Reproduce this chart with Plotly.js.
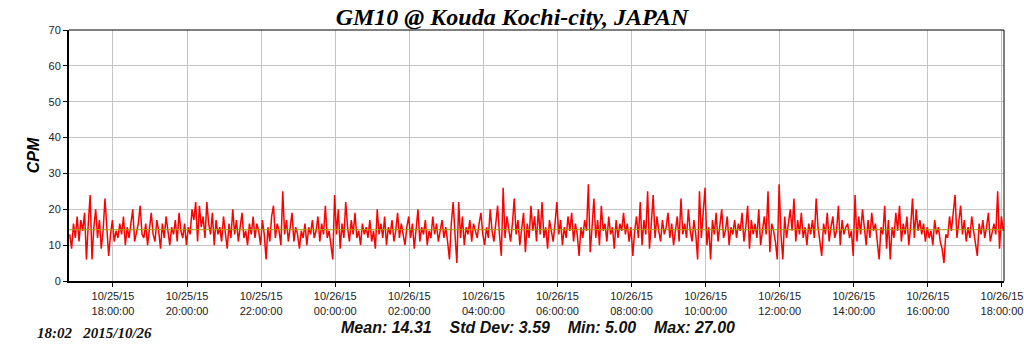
<!DOCTYPE html>
<html>
<head>
<meta charset="utf-8">
<script src="https://cdn.plot.ly/plotly-3.0.1.min.js"></script>
<style>html,body{margin:0;padding:0;background:#fff;}#chart{width:1024px;height:351px;}</style>
</head>
<body>
<div id="chart"></div>
<script>
// CPM readings, one every 3 minutes from 2015-10-25 16:50 to 2015-10-26 18:02
const startTime = '2015-10-25 16:50:00';
const stepMs = 180000;
const cpm = [
13,9,16,12,18,11,17,14,19,6,16,24,6,15,20,12,17,9,14,23,
15,7,13,17,11,14,12,16,13,18,10,15,12,17,20,11,14,16,21,13,
12,16,10,15,19,13,11,17,14,9,16,12,18,14,10,15,13,17,11,19,
14,12,16,10,15,13,20,17,22,11,21,15,18,12,22,16,13,19,10,17,
13,15,11,18,14,9,16,12,20,13,17,11,15,19,12,14,10,16,13,18,
12,16,14,10,17,13,6,15,11,18,21,12,16,14,10,25,13,17,11,15,
19,11,15,13,9,14,12,16,10,15,13,17,12,14,18,11,16,13,21,12,
14,10,6,24,13,20,9,16,12,22,15,11,17,13,19,12,14,10,16,13,
15,12,17,11,14,9,20,13,16,12,18,10,15,13,17,11,14,19,12,16,
13,10,15,18,12,16,9,14,20,11,15,13,17,10,14,12,18,13,16,11,
14,17,12,15,11,6,16,22,13,5,22,12,18,10,15,13,17,11,16,14,
12,16,19,13,10,15,12,20,14,11,17,21,13,7,26,12,18,15,11,16,
23,13,17,10,15,19,8,16,12,21,14,18,11,20,13,22,12,15,9,17,
14,11,16,22,13,17,10,15,12,18,14,19,11,16,13,7,15,12,17,14,
27,8,15,23,12,17,10,21,14,16,11,18,13,15,9,17,12,16,14,19,
13,16,11,15,7,14,18,12,22,10,17,13,25,9,16,24,12,18,14,11,
17,13,15,19,12,16,10,14,18,11,23,13,16,12,20,14,11,17,13,6,
25,12,18,26,10,15,6,17,13,19,11,16,20,12,14,18,10,15,13,17,
12,16,14,19,11,15,21,9,17,13,16,12,20,10,15,18,13,25,8,16,
14,11,6,27,13,6,18,12,16,20,14,23,11,17,13,19,12,15,10,16,
13,17,12,23,15,10,7,16,13,19,11,15,18,12,14,21,10,17,13,15,
16,12,14,7,24,11,18,13,20,15,10,17,12,19,14,16,11,6,15,13,
21,9,17,6,15,12,19,14,21,11,16,13,18,10,15,23,12,20,14,17,
13,16,11,15,12,14,10,17,13,15,11,9,5,13,12,18,14,20,24,12,
16,21,13,17,11,15,12,18,14,10,7,16,13,17,12,15,19,11,14,16,
13,25,9,18,14
];
const meanValue = [14.31];
const statLabels = ['Mean: 14.31', 'Std Dev: 3.59', 'Min: 5.00', 'Max: 27.00'];
const stampText = ['18:02', '2015/10/26'];
const xRange = ['2015-10-25 16:48:45', '2015-10-26 18:03:15'];
const tickVals = ['2015-10-25 18:00','2015-10-25 20:00','2015-10-25 22:00','2015-10-26 00:00','2015-10-26 02:00','2015-10-26 04:00','2015-10-26 06:00','2015-10-26 08:00','2015-10-26 10:00','2015-10-26 12:00','2015-10-26 14:00','2015-10-26 16:00','2015-10-26 18:00'];
const tickText = ['10/25/15<br>18:00:00','10/25/15<br>20:00:00','10/25/15<br>22:00:00','10/26/15<br>00:00:00','10/26/15<br>02:00:00','10/26/15<br>04:00:00','10/26/15<br>06:00:00','10/26/15<br>08:00:00','10/26/15<br>10:00:00','10/26/15<br>12:00:00','10/26/15<br>14:00:00','10/26/15<br>16:00:00','10/26/15<br>18:00:00'];
const yTicks = [0,10,20,30,40,50,60,70];

const traces = [
  {type:'scatter', mode:'lines', x0:startTime, dx:stepMs, y:cpm,
   line:{color:'#ff0000', width:1.5}, hoverinfo:'skip'},
  {type:'scatter', mode:'lines', x:xRange, y:[meanValue[0], meanValue[0]],
   line:{color:'#a6a000', width:1}, hoverinfo:'skip'}
];

const layout = {
  width:1024, height:351,
  margin:{l:69, r:20, t:30, b:70},
  paper_bgcolor:'#ffffff', plot_bgcolor:'#ffffff',
  showlegend:false,
  title:{text:'GM10 @ Kouda Kochi-city, JAPAN', x:0.5, xanchor:'center', y:0.952, yanchor:'middle',
         font:{family:'Liberation Serif, Times New Roman, serif', size:24, color:'#000', weight:'bold', style:'italic'}},
  xaxis:{type:'date', range:xRange, tickvals:tickVals, ticktext:tickText,
         showgrid:true, gridcolor:'#c4c4c4', gridwidth:1,
         showline:true, linecolor:'#000', linewidth:2,
         ticks:'outside', ticklen:4, tickcolor:'#000',
         tickfont:{family:'Liberation Sans, Arial, sans-serif', size:11, color:'#222'},
         zeroline:false, fixedrange:true},
  yaxis:{range:[0,70], tickvals:yTicks, ticktext:yTicks.map(String),
         showgrid:true, gridcolor:'#c4c4c4', gridwidth:1,
         showline:true, linecolor:'#000', linewidth:2,
         ticks:'outside', ticklen:4, tickcolor:'#000',
         tickfont:{family:'Liberation Sans, Arial, sans-serif', size:11, color:'#222'},
         zeroline:false, fixedrange:true,
         title:{text:'CPM', standoff:5,
                font:{family:'Liberation Sans, Arial, sans-serif', size:16, color:'#000', weight:'bold', style:'italic'}}},
  shapes:[
    {type:'line', xref:'paper', yref:'paper', x0:0, x1:1, y0:1, y1:1, line:{color:'#000', width:1}},
    {type:'line', xref:'paper', yref:'paper', x0:1, x1:1, y0:0, y1:1, line:{color:'#000', width:1}}
  ],
  annotations:[
    {xref:'paper', yref:'paper', x:(538-69)/935, y:-(327-281)/251, xanchor:'center', yanchor:'middle', showarrow:false,
     text:statLabels.join('&nbsp;&nbsp;&nbsp;&nbsp;'),
     font:{family:'Liberation Sans, Arial, sans-serif', size:16, color:'#111', weight:'bold', style:'italic'}},
    {xref:'paper', yref:'paper', x:(35-69)/935, y:-(333-281)/251, xanchor:'left', yanchor:'middle', showarrow:false,
     text:stampText.join('&nbsp;&nbsp;&nbsp;'),
     font:{family:'Liberation Serif, Times New Roman, serif', size:15, color:'#111', weight:'bold', style:'italic'}}
  ]
};

Plotly.newPlot('chart', traces, layout, {staticPlot:true, displayModeBar:false});
</script>
</body>
</html>
